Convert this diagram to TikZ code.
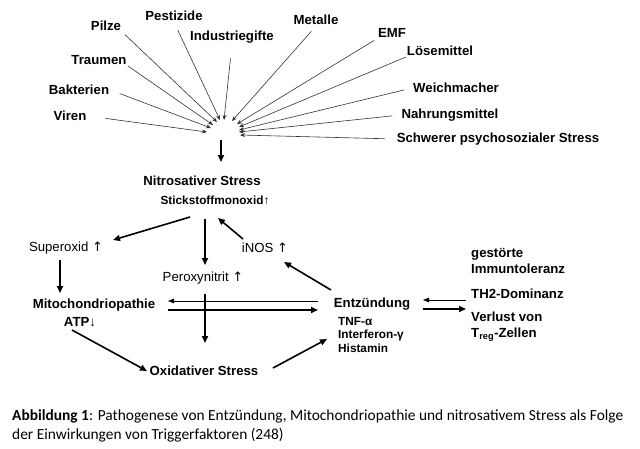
\documentclass[tikz,border=0pt]{standalone}
\usepackage{fontspec}
\setmainfont{Liberation Sans}
\newfontfamily\capfont{Carlito}
\newfontfamily\arrfont{DejaVu Sans}
\usetikzlibrary{arrows.meta}
\newcommand{\uparr}{{\arrfont\fontsize{13}{14}\selectfont↑}}
\begin{document}
\begin{tikzpicture}[x=1pt,y=-1pt,
  lbl/.style={font=\fontsize{13.2}{15}\selectfont\bfseries, inner sep=1pt},
  rlbl/.style={font=\fontsize{13.2}{15}\selectfont, inner sep=1pt},
  thinarr/.style={draw=black!80, line width=0.6pt, -{Stealth[length=5pt,width=4pt]}},
  bigarr/.style={draw=black, line width=1.6pt, -{Triangle[length=7pt,width=6pt]}},
  medarr/.style={draw=black, line width=0.9pt, -{Triangle[length=6pt,width=4.5pt]}}]
\useasboundingbox (0,0) rectangle (640,448);
\fill[white] (0,0) rectangle (640,448);
% trigger labels
\node[lbl] (pilze) at (106,26) {Pilze};
\node[lbl] (pest) at (174,16) {Pestizide};
\node[lbl] (indu) at (232,37) {Industriegifte};
\node[lbl] (meta) at (316,20) {Metalle};
\node[lbl] (emf) at (392,33) {EMF};
\node[lbl] (loes) at (440,51) {Lösemittel};
\node[lbl] (weich) at (456,88) {Weichmacher};
\node[lbl] (nahr) at (450,115) {Nahrungsmittel};
\node[lbl] (schw) at (498,139) {Schwerer psychosozialer Stress};
\node[lbl] (traum) at (99,60) {Traumen};
\node[lbl] (bakt) at (79,90) {Bakterien};
\node[lbl] (viren) at (70,116) {Viren};
% target points
\coordinate (tv) at (207,132);
\coordinate (tb) at (211,128);
\coordinate (tt) at (213,125);
\coordinate (tp) at (217,122);
\coordinate (tpe) at (220,120);
\coordinate (ti) at (224,120);
\coordinate (tm) at (232,121);
\coordinate (te) at (237,124);
\coordinate (tl) at (239,127);
\coordinate (tw) at (239,130);
\coordinate (tn) at (239,132);
\coordinate (ts) at (240,135);
\draw[thinarr, shorten <=18pt] (viren.east) -- (tv);
\draw[thinarr, shorten <=10pt] (bakt.east) -- (tb);
\draw[thinarr] (traum.south east) -- (tt);
\draw[thinarr, shorten <=4pt] (pilze.south east) -- (tp);
\draw[thinarr, shorten <=9pt] (pest.south) -- (tpe);
\draw[thinarr, shorten <=14pt] (indu.south) -- (ti);
\draw[thinarr, shorten <=7pt] (meta.south) -- (tm);
\draw[thinarr, shorten <=3pt] (emf.south west) -- (te);
\draw[thinarr] (loes.south west) -- (tl);
\draw[thinarr, shorten <=8pt] (weich.west) -- (tw);
\draw[thinarr, shorten <=8pt] (nahr.west) -- (tn);
\draw[thinarr, shorten <=11pt] (schw.west) -- (ts);
% central nodes
\coordinate (ctop) at (221,140);
\coordinate (cbot) at (221,162);
\node[lbl] (nitro) at (202,181) {Nitrosativer Stress};
\node[lbl, font=\fontsize{11.8}{13}\selectfont\bfseries] (stick) at (215,200) {Stickstoffmonoxid{\normalfont↑}};
\draw[bigarr] (ctop) -- (cbot);
\node[rlbl] (super) at (66,248) {Superoxid \uparr};
\node[rlbl] (inos) at (265,248) {iNOS \uparr};
\node[rlbl] (perox) at (203,278) {Peroxynitrit \uparr};
\node[lbl] (mito) at (94,305) {Mitochondriopathie};
\node[lbl] (atp) at (80,322) {ATP{\normalfont↓}};
\node[lbl] (oxi) at (204,371) {Oxidativer Stress};
\node[lbl] (entz) at (372,304) {Entzündung};
\node[lbl, align=left, anchor=north west, font=\fontsize{11.8}{13.5}\selectfont\bfseries] (cyto) at (337,316) {TNF-α\\Interferon-γ\\Histamin};
\node[lbl, align=left, anchor=west, font=\fontsize{13.2}{16}\selectfont\bfseries] (gest) at (470,261) {gestörte\\Immuntoleranz};
\node[lbl, anchor=west] (th2) at (470,294) {TH2-Dominanz};
\node[lbl, align=left, anchor=north west, font=\fontsize{13.2}{16}\selectfont\bfseries] (verl) at (470,311) {Verlust von\\T\textsubscript{reg}-Zellen};
% named coordinates for connectors
\coordinate (n1) at (190,217);
\coordinate (n2) at (205,219);
\coordinate (n3) at (218,218);
\coordinate (s1) at (113,240);
\coordinate (p1) at (205,265);
\coordinate (i1) at (243,239);
\coordinate (i2) at (284,262);
\coordinate (e1) at (331,290);
\coordinate (su1) at (60,260);
\coordinate (m1) at (60,293);
\coordinate (hl) at (168,301);
\coordinate (hr) at (318,301);
\coordinate (hl2) at (168,310);
\coordinate (hr2) at (318,310);
\coordinate (v1) at (205,294);
\coordinate (v2) at (205,343);
\coordinate (m2) at (72,330);
\coordinate (o1) at (147,371);
\coordinate (o2) at (273,368);
\coordinate (e2) at (327,339);
\coordinate (r1) at (423,300);
\coordinate (r2) at (466,300);
\coordinate (r3) at (423,309);
\coordinate (r4) at (466,309);
\draw[bigarr] (n1) -- (s1);
\draw[bigarr] (n2) -- (p1);
\draw[bigarr] (i1) -- (n3);
\draw[bigarr] (e1) -- (i2);
\draw[bigarr] (su1) -- (m1);
\draw[medarr] (hr) -- (hl);
\draw[bigarr] (hl2) -- (hr2);
\draw[bigarr] (v1) -- (v2);
\draw[bigarr] (m2) -- (o1);
\draw[bigarr] (o2) -- (e2);
\draw[medarr] (r2) -- (r1);
\draw[bigarr] (r3) -- (r4);
% caption
\node[anchor=west, inner sep=0pt, align=left, font=\capfont\fontsize{15.4}{18.5}\selectfont] (cap) at (12,426) {\textbf{Abbildung 1}: Pathogenese von Entzündung, Mitochondriopathie und nitrosativem Stress als Folge\\der Einwirkungen von Triggerfaktoren (248)};
\end{tikzpicture}
\end{document}
